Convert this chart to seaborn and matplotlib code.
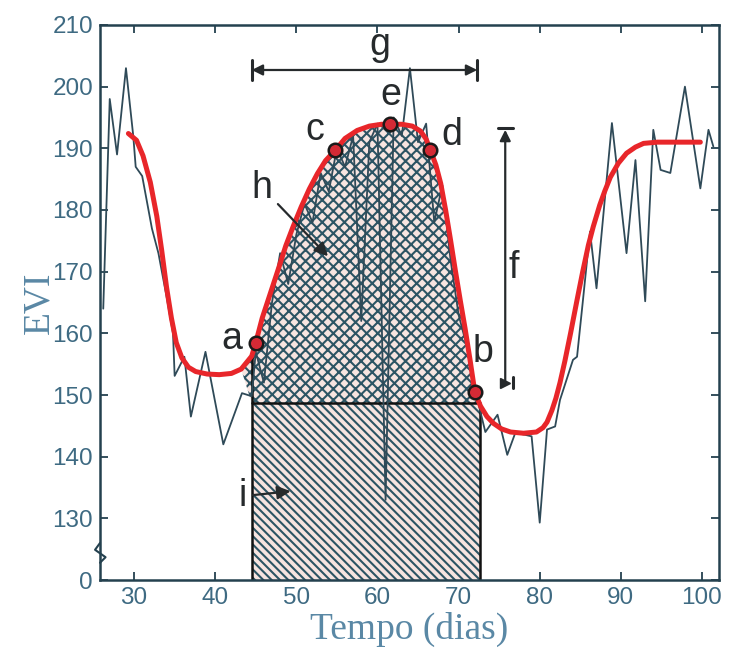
import numpy as np
import pandas as pd
import matplotlib
matplotlib.use("Agg")
import matplotlib.pyplot as plt
import seaborn as sns
from matplotlib.transforms import blended_transform_factory

# Raw EVI time series (day, EVI)
raw_day = [26.2, 27.0, 27.9, 29.0, 29.9, 30.2, 31.0, 32.2, 33.0, 34.0, 34.8, 35.0,
           36.2, 37.0, 38.8, 41.0, 43.3, 44.5, 45.0, 46.0, 47.0, 48.0, 49.0, 50.0,
           51.0, 52.0, 53.0, 54.0, 55.0, 56.0, 57.0, 58.0, 59.0, 60.0, 61.0, 62.0,
           63.0, 64.0, 65.0, 66.0, 67.0, 68.0, 69.0, 70.0, 71.0, 72.0, 73.3, 74.8,
           76.0, 77.0, 79.0, 80.0, 80.9, 81.9, 82.5, 84.1, 84.6, 85.3, 86.2, 87.0,
           88.9, 90.7, 91.8, 93.0, 94.0, 94.9, 96.1, 97.9, 99.8, 100.8, 101.4]
raw_evi = [164, 198, 189, 203, 192, 187, 185.5, 177, 173, 166, 160, 153.1,
           156.2, 146.5, 157, 142, 150.3, 149.8, 157, 152, 165, 173, 168, 176,
           181, 178, 186, 183, 190, 187, 192, 162, 191, 194, 133, 195,
           192, 203, 191, 194, 178, 184, 172, 163, 158, 151, 144, 146.8,
           140.3, 143.9, 143.3, 129.3, 144.4, 144.9, 149.2, 155.7, 156.2, 165, 176.5, 167.3,
           194.1, 173.0, 188.1, 165.2, 193, 186.5, 186, 200, 183.5, 193, 190.3]

# Smoothed EVI curve
fit_day = [29.3, 30.3, 31.1, 32.0, 32.8, 33.4, 34.0, 34.6, 35.2, 35.9, 36.7, 37.6,
           39.0, 40.5, 42.0, 43.2, 44.5, 45.0, 45.8, 46.8, 47.8, 48.7, 49.6, 50.6,
           51.6, 52.6, 53.6, 54.8, 56.0, 57.5, 59.0, 60.5, 61.6, 63.0, 64.3, 65.3,
           66.0, 66.5, 67.2, 67.8, 68.4, 69.0, 69.6, 70.2, 70.8, 71.4, 72.0, 72.7,
           73.5, 74.3, 75.3, 76.4, 78.0, 79.6, 80.4, 80.9, 81.5, 82.0, 82.5, 83.1,
           83.8, 84.6, 85.3, 86.0, 86.6, 87.4, 88.0, 88.7, 89.7, 90.7, 91.8, 92.8,
           94.5, 97.0, 99.8]
fit_evi = [192.4, 191.3, 188.8, 184.5, 179.0, 173.5, 167.5, 162.5, 158.5, 156.0, 154.5, 153.8,
           153.4, 153.3, 153.5, 154.2, 156.3, 158.5, 162.5, 166.5, 170.5, 174.2, 177.3, 180.5,
           183.4, 185.9, 188.0, 189.7, 191.6, 192.9, 193.6, 193.9, 193.9, 193.9, 193.6, 192.8,
           191.5, 189.8, 187.3, 184.3, 180.0, 175.2, 170.2, 165.4, 160.8, 155.8, 150.5, 148.2,
           146.5, 145.4, 144.5, 144.0, 143.8, 144.0, 144.7, 145.6, 147.5, 149.5, 152.0, 155.5,
           160.0, 165.4, 170.0, 174.3, 177.3, 180.8, 183.0, 185.3, 187.6, 189.2, 190.2, 190.8,
           191.0, 191.0, 191.0]

# Phenological points on the smoothed curve
pheno_lbl = ["a", "c", "e", "d", "b"]
pheno_day = [45.0, 54.8, 61.6, 66.5, 72.0]
pheno_evi = [158.5, 189.7, 193.9, 189.8, 150.5]

# Season window, base level and amplitude
season_start, season_end = 44.5, 72.7
base_level = 148.7
amp_top, amp_bottom = 193.3, 152.0
y_floor = 120

x_ticks = [30, 40, 50, 60, 70, 80, 90, 100]
y_ticks = [120, 130, 140, 150, 160, 170, 180, 190, 200, 210]
y_tick_labels = ["0", "130", "140", "150", "160", "170", "180", "190", "200", "210"]

sns.set_theme(style="white")
plt.rcParams["font.family"] = ["Liberation Sans", "DejaVu Sans"]
plt.rcParams["hatch.linewidth"] = 1.5

spine_c = "#24414f"
tick_c = "#3e6a82"
label_c = "#5a88a5"
ink = "#262a2c"
hatch_c = "#2c5464"

fig = plt.figure(figsize=(7.31, 6.52), dpi=100)
ax = fig.add_axes([0.1368, 0.1104, 0.8468, 0.8513])

raw = pd.DataFrame({"day": raw_day, "evi": raw_evi})
fit = pd.DataFrame({"day": fit_day, "evi": fit_evi})
fd = np.array(fit_day)
fe = np.array(fit_evi)

# Integrated areas: above base level (h) and below it (i)
mask = (fd >= season_start) & (fd <= season_end)
ax.fill_between(fd, fe, base_level, where=mask & (fe >= base_level), interpolate=True,
                facecolor="#f7e4e0", edgecolor=hatch_c, hatch="xxx", linewidth=0, zorder=1)
ax.fill_between([season_start, season_end], y_floor, base_level,
                facecolor="#f7e4e0", edgecolor=hatch_c, hatch="\\\\\\\\", linewidth=0, zorder=1)
ax.plot([season_start, season_end], [base_level, base_level], color="#111111", lw=1.8, zorder=2)
ax.plot([season_start, season_start], [y_floor, fe[fd == season_start][0]], color="#111111", lw=1.8, zorder=2)
ax.plot([season_end, season_end], [y_floor, base_level], color="#111111", lw=1.8, zorder=2)

# Raw and smoothed series
sns.lineplot(data=raw, x="day", y="evi", ax=ax, color="#2f4a58", lw=1.3,
             estimator=None, sort=False, zorder=3)
sns.lineplot(data=fit, x="day", y="evi", ax=ax, color="#e8262a", lw=3.6,
             estimator=None, sort=False, zorder=4)
ax.scatter(pheno_day, pheno_evi, s=95, facecolor="#d42a35", edgecolor="#1a1a1a",
           linewidth=1.8, zorder=5)

letter_kw = dict(fontsize=27, color=ink, ha="center", va="center", zorder=6)
offsets = {"a": (-2.9, 0.5), "c": (-2.5, 3.3), "e": (0.0, 4.8), "d": (2.7, 2.4), "b": (1.0, 6.5)}
for lbl, d, v in zip(pheno_lbl, pheno_day, pheno_evi):
    dx, dy = offsets[lbl]
    ax.text(d + dx, v + dy, lbl, **letter_kw)

# g: season length
g_y = 202.7
ax.annotate("", xy=(season_start, g_y), xytext=(season_end - 0.4, g_y),
            arrowprops=dict(arrowstyle="<|-|>", color=ink, lw=1.6, mutation_scale=16,
                            shrinkA=0, shrinkB=0), zorder=6)
for xe in (season_start, season_end - 0.4):
    ax.plot([xe, xe], [g_y - 1.7, g_y + 1.7], color=ink, lw=2.2, zorder=6)
ax.text((season_start + season_end) / 2 + 1.7, g_y + 4.1, "g", **letter_kw)

# f: amplitude
f_x = 75.75
ax.annotate("", xy=(f_x, amp_top - 0.3), xytext=(f_x, amp_bottom),
            arrowprops=dict(arrowstyle="-|>", color=ink, lw=1.6, mutation_scale=16,
                            shrinkA=0, shrinkB=0), zorder=6)
ax.plot([f_x - 0.9, f_x + 0.9], [amp_top, amp_top], color=ink, lw=2.2, zorder=6)
ax.plot([f_x], [amp_bottom], marker=">", ms=7, color=ink, zorder=6)
ax.plot([f_x + 0.9, f_x + 0.9], [amp_bottom - 0.9, amp_bottom + 0.9], color=ink, lw=2.2, zorder=6)
ax.text(f_x + 1.0, 170.6, "f", **letter_kw)

# h and i pointers
ax.annotate("h", xy=(53.9, 172.5), xytext=(45.8, 183.6),
            arrowprops=dict(arrowstyle="-|>", color=ink, lw=1.6, mutation_scale=20,
                            shrinkA=2, shrinkB=0), **letter_kw)
ax.annotate("i", xy=(49.3, 134.4), xytext=(43.4, 133.6),
            arrowprops=dict(arrowstyle="-|>", color=ink, lw=1.6, mutation_scale=20,
                            shrinkA=2, shrinkB=0), **letter_kw)

# Axes styling
ax.set_xlim(25.8, 102.1)
ax.set_ylim(y_floor, 210)
ax.set_xticks(x_ticks)
ax.set_yticks(y_ticks)
ax.set_yticklabels(y_tick_labels)
ax.tick_params(direction="in", length=6, width=1.3, color=spine_c, labelcolor=tick_c,
               labelsize=17.5, top=True, right=True, bottom=True, left=True, pad=5)
for s in ax.spines.values():
    s.set_color(spine_c)
    s.set_linewidth(1.8)
ax.set_xlabel("Tempo (dias)", family=["Liberation Serif", "DejaVu Serif"], fontsize=27,
              color=label_c, labelpad=2)
ax.set_ylabel("EVI", family=["Liberation Serif", "DejaVu Serif"], fontsize=27,
              color=label_c, labelpad=-3)

# Axis break mark
tr = blended_transform_factory(ax.transAxes, ax.transData)
ax.plot([0.0, -0.008, 0.009, 0.0], [126.0, 124.9, 123.7, 122.8], transform=tr,
        color=spine_c, lw=1.5, clip_on=False, zorder=7)

fig.savefig("out.png", dpi=100)
